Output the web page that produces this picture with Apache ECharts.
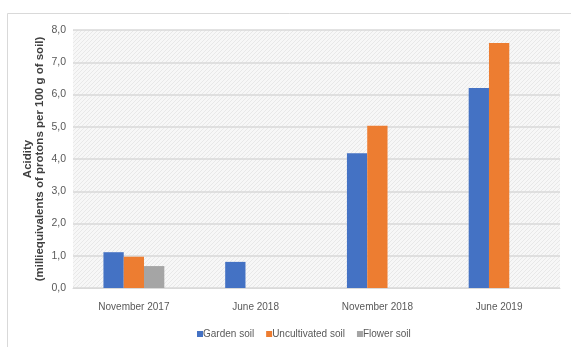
<!DOCTYPE html>
<html>
<head>
<meta charset="utf-8">
<script src="https://cdn.jsdelivr.net/npm/echarts@6/dist/echarts.min.js"></script>
<style>
  html, body { margin: 0; padding: 0; background: #fff; }
  #chart { width: 571px; height: 347px; }
</style>
</head>
<body>
<div id="chart"></div>
<script>
// Sampling dates
const categories = ['November 2017', 'June 2018', 'November 2018', 'June 2019'];

// Acidity per soil type (milliequivalents of protons per 100 g of soil)
const gardenSoil = [1.11, 0.81, 4.18, 6.2];
const uncultivatedSoil = [0.97, null, 5.03, 7.6];
const flowerSoil = [0.68, null, null, null];

const seriesNames = ['Garden soil', 'Uncultivated soil', 'Flower soil'];
const seriesColors = ['#4472c4', '#ed7d31', '#a5a5a5'];

const FONT = "'Liberation Sans Narrow', 'Liberation Sans', Arial, sans-serif";

// Light diagonal hatch for the plot area
function makeHatch() {
  const c = document.createElement('canvas');
  c.width = 4; c.height = 4;
  const ctx = c.getContext('2d');
  ctx.fillStyle = '#f7f7f7';
  ctx.fillRect(0, 0, 4, 4);
  ctx.fillStyle = '#e8e8e8';
  for (let i = 0; i < 4; i++) ctx.fillRect(i, 3 - i, 1, 1);
  return c;
}

const chart = echarts.init(document.getElementById('chart'), null, { renderer: 'canvas' });

const dataSets = [gardenSoil, uncultivatedSoil, flowerSoil];

chart.setOption({
  animation: false,
  backgroundColor: '#ffffff',
  graphic: [
    { type: 'polyline', shape: { points: [[7.5, 347], [7.5, 13.5], [571, 13.5]] },
      style: { stroke: '#d9d9d9', lineWidth: 1, fill: null }, silent: true }
  ],
  grid: {
    left: 73, right: 11, top: 30, bottom: 59,
    show: true,
    borderWidth: 0,
    backgroundColor: { image: makeHatch(), repeat: 'repeat' }
  },
  legend: {
    data: seriesNames,
    bottom: 3,
    left: 192,
    itemWidth: 6,
    itemHeight: 6,
    itemGap: 12,
    icon: 'rect',
    textStyle: { fontFamily: FONT, fontSize: 10, color: '#595959', padding: [0, 0, 0, -5] }
  },
  xAxis: {
    type: 'category',
    data: categories,
    axisLine: { show: true, lineStyle: { color: '#d9d9d9', width: 1 } },
    axisTick: { show: false },
    axisLabel: { fontFamily: FONT, fontSize: 10, color: '#595959', margin: 14 }
  },
  yAxis: {
    type: 'value',
    min: 0, max: 8, interval: 1,
    name: 'Acidity\n(milliequivalents of protons per 100 g of soil)',
    nameLocation: 'middle',
    nameGap: 27,
    nameMoveOverlap: false,
    nameTextStyle: { fontFamily: FONT, fontSize: 11.5, fontWeight: 'bold', color: '#404040', lineHeight: 12 },
    axisLine: { show: false },
    axisTick: { show: false },
    splitLine: { lineStyle: { color: '#d9d9d9', width: 1.5 } },
    axisLabel: {
      fontFamily: FONT, fontSize: 10.5, color: '#595959', margin: 7,
      formatter: v => v.toFixed(1).replace('.', ',')
    }
  },
  series: seriesNames.map((name, i) => ({
    name,
    type: 'bar',
    data: dataSets[i],
    barGap: '0%',
    barCategoryGap: '50%',
    itemStyle: { color: seriesColors[i] }
  }))
});
</script>
</body>
</html>
